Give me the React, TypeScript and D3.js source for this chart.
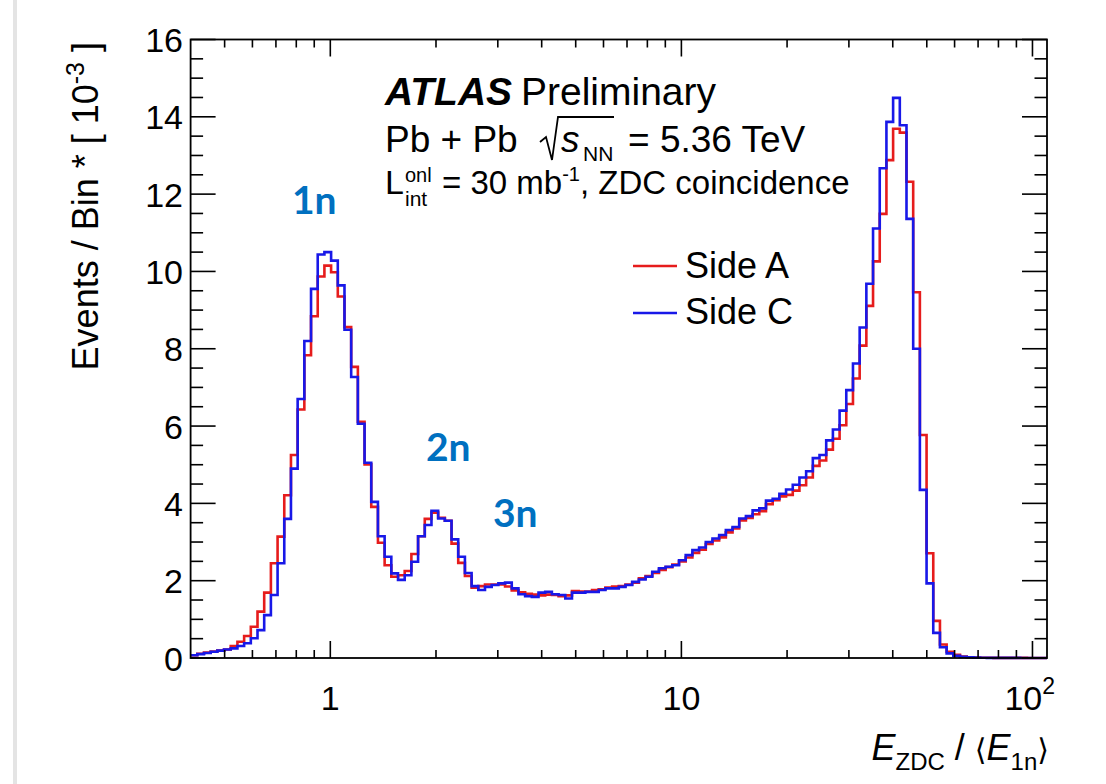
import React from "react";
import * as d3 from "d3";

// ---- data (events / bin, in units of 10^3) ----
const X_MIN = 0.4;
const X_MAX = 110;
const N_BINS = 128;

const sideA = [
  0.07, 0.11, 0.14, 0.17, 0.19, 0.22, 0.31, 0.42, 0.57, 0.81,
  1.2, 1.69, 2.45, 3.14, 4.21, 5.25, 6.43, 7.83, 8.84, 9.87,
  10.15, 9.98, 9.35, 8.56, 7.53, 6.11, 5.01, 3.91, 2.98, 2.4,
  2.1, 2.14, 2.25, 2.69, 3.15, 3.6, 3.76, 3.63, 3.55, 2.96,
  2.46, 2.12, 1.82, 1.86, 1.9, 1.9, 1.9, 1.85, 1.75, 1.7,
  1.66, 1.64, 1.62, 1.64, 1.63, 1.6, 1.62, 1.73, 1.72, 1.72,
  1.76, 1.78, 1.82, 1.85, 1.86, 1.9, 1.95, 2.06, 2.12, 2.2,
  2.28, 2.35, 2.42, 2.5, 2.6, 2.72, 2.8, 2.95, 3.04, 3.12,
  3.25, 3.35, 3.56, 3.62, 3.72, 3.8, 3.98, 4.08, 4.18, 4.22,
  4.33, 4.47, 4.67, 4.97, 5.11, 5.39, 5.67, 6.02, 6.57, 7.23,
  8.08, 9.11, 10.26, 11.49, 12.88, 13.69, 13.59, 12.32, 9.46, 5.77,
  2.71, 0.96, 0.35, 0.16, 0.08, 0.04, 0.02, 0.01, 0.006, 0.005,
  0.004, 0.003, 0.003, 0.002, 0.002, 0.001, 0.001, 0.001,
];

const sideC = [
  0.07, 0.1, 0.13, 0.16, 0.19, 0.22, 0.25, 0.31, 0.38, 0.51,
  0.72, 1.11, 1.63, 2.45, 3.6, 4.9, 6.7, 8.2, 9.55, 10.44,
  10.5, 10.28, 9.64, 8.49, 7.27, 6.06, 5.05, 4.04, 3.15, 2.62,
  2.19, 2.02, 2.14, 2.49, 3.15, 3.44, 3.81, 3.61, 3.55, 3.07,
  2.62, 2.2, 1.86, 1.76, 1.84, 1.89, 1.93, 1.95, 1.8, 1.65,
  1.6, 1.58, 1.69, 1.71, 1.65, 1.63, 1.54, 1.69, 1.69, 1.71,
  1.71, 1.76, 1.8, 1.8, 1.84, 1.89, 1.97, 2.03, 2.1, 2.23,
  2.32, 2.36, 2.4, 2.53, 2.66, 2.79, 2.86, 3.0, 3.09, 3.18,
  3.31, 3.39, 3.61, 3.67, 3.82, 3.87, 4.07, 4.12, 4.25, 4.36,
  4.48, 4.67, 4.83, 5.17, 5.25, 5.63, 5.91, 6.4, 6.93, 7.62,
  8.55, 9.68, 11.11, 12.67, 13.87, 14.49, 13.78, 11.36, 8.0, 4.35,
  1.93, 0.65, 0.28, 0.12, 0.06, 0.03, 0.02, 0.01, 0.005, 0.004,
  0.003, 0.003, 0.002, 0.002, 0.001, 0.001, 0.001, 0.001,
];

const yTickValues = [0, 2, 4, 6, 8, 10, 12, 14, 16];
const xMajorTicks = [1, 10, 100];
const seriesNames = ["Side A", "Side C"];
const peakLabels = ["1n", "2n", "3n"];

const COLORS = { A: "#e61c1c", C: "#1818e8" };
const FONT = "'Liberation Sans', Arimo, Helvetica, Arial, sans-serif";

const W = 1106;
const H = 784;
const M = { left: 190.6, right: 1047, top: 39.5, bottom: 658 };

export default function App() {
  const x = d3.scaleLog().domain([X_MIN, X_MAX]).range([M.left, M.right]);
  const y = d3.scaleLinear().domain([0, 16]).range([M.bottom, M.top]);

  const lgMin = Math.log10(X_MIN);
  const lgMax = Math.log10(X_MAX);
  const edges = d3.range(N_BINS + 1).map((i) => Math.pow(10, lgMin + ((lgMax - lgMin) * i) / N_BINS));

  const stepLine = d3
    .line<[number, number]>()
    .x((d) => x(d[0]))
    .y((d) => y(d[1]))
    .curve(d3.curveStepAfter);

  const pts = (vals: number[]): [number, number][] => {
    const p: [number, number][] = vals.map((v, i) => [edges[i], v]);
    p.push([edges[N_BINS], vals[vals.length - 1]]);
    return p;
  };

  const xMinor = x.ticks().filter((t) => t > X_MIN * 1.001 && !xMajorTicks.includes(t) && t < X_MAX);
  const yMinor = d3.range(0, 16.001, 0.5).filter((v) => !yTickValues.includes(v));

  const tickStroke = { stroke: "#000", strokeWidth: 1.6 };
  const peakPos = [
    [292, 214],
    [426, 461],
    [493, 527],
  ];

  return (
    <svg
      width={W}
      height={H}
      style={{ position: "absolute", left: 0, top: 0, background: "#fff" }}
      fontFamily={FONT}
    >
      <rect x={0} y={0} width={W} height={H} fill="#fff" />
      <rect x={13} y={0} width={4} height={H} fill="#e4e4e4" />

      {/* histograms */}
      <path d={stepLine(pts(sideA)) || ""} fill="none" stroke={COLORS.A} strokeWidth={2.6} />
      <path d={stepLine(pts(sideC)) || ""} fill="none" stroke={COLORS.C} strokeWidth={2.6} />

      {/* frame */}
      <rect
        x={M.left}
        y={M.top}
        width={M.right - M.left}
        height={M.bottom - M.top}
        fill="none"
        stroke="#000"
        strokeWidth={1.8}
      />

      {/* y ticks */}
      {yTickValues.map((v) => (
        <g key={"yt" + v}>
          <line x1={M.left} x2={M.left + 25} y1={y(v)} y2={y(v)} {...tickStroke} />
          <line x1={M.right} x2={M.right - 25} y1={y(v)} y2={y(v)} {...tickStroke} />
          <text x={183} y={y(v) + 12.5} fontSize={34} textAnchor="end">
            {v}
          </text>
        </g>
      ))}
      {yMinor.map((v) => (
        <g key={"ym" + v}>
          <line x1={M.left} x2={M.left + 12.5} y1={y(v)} y2={y(v)} {...tickStroke} />
          <line x1={M.right} x2={M.right - 12.5} y1={y(v)} y2={y(v)} {...tickStroke} />
        </g>
      ))}

      {/* x ticks */}
      {xMajorTicks.map((t) => (
        <g key={"xt" + t}>
          <line x1={x(t)} x2={x(t)} y1={M.bottom} y2={M.bottom - 17} {...tickStroke} />
          <line x1={x(t)} x2={x(t)} y1={M.top} y2={M.top + 17} {...tickStroke} />
        </g>
      ))}
      {xMinor.map((t) => (
        <g key={"xm" + t}>
          <line x1={x(t)} x2={x(t)} y1={M.bottom} y2={M.bottom - 8} {...tickStroke} />
          <line x1={x(t)} x2={x(t)} y1={M.top} y2={M.top + 8} {...tickStroke} />
        </g>
      ))}
      <text x={x(1)} y={710} fontSize={34} textAnchor="middle">1</text>
      <text x={x(10)} y={710} fontSize={34} textAnchor="middle">10</text>
      <text x={x(100) - 28} y={710} fontSize={34}>
        10
        <tspan fontSize={23} dy={-16}>2</tspan>
      </text>

      {/* x title */}
      <text x={1049} y={760} fontSize={36} textAnchor="end">
        <tspan fontStyle="italic">E</tspan>
        <tspan fontSize={24} dy={10}>ZDC</tspan>
        <tspan dy={-10}> / </tspan>
        <tspan fontFamily="'DejaVu Sans', sans-serif" fontSize={30}>⟨</tspan>
        <tspan fontStyle="italic">E</tspan>
        <tspan fontSize={24} dy={10}>1n</tspan>
        <tspan dy={-10} fontFamily="'DejaVu Sans', sans-serif" fontSize={30}>⟩</tspan>
      </text>

      {/* y title */}
      <text transform="translate(98,42) rotate(-90)" fontSize={36} textAnchor="end">
        Events / Bin * [ 10
        <tspan fontSize={25} dy={-14}>-3</tspan>
        <tspan dy={14}> ]</tspan>
      </text>

      {/* ATLAS text */}
      <text x={385} y={105} fontSize={39} fontWeight="bold" fontStyle="italic">ATLAS</text>
      <text x={521} y={105} fontSize={39}>Preliminary</text>

      <text x={385} y={152} fontSize={37}>Pb + Pb</text>
      <path
        d="M540,142 L546,137 L552,160 L558,117 L614,117"
        fill="none"
        stroke="#000"
        strokeWidth={1.8}
      />
      <text x={561} y={152} fontSize={37} fontStyle="italic">s</text>
      <text x={583} y={161} fontSize={21}>NN</text>
      <text x={628} y={152} fontSize={37}>= 5.36 TeV</text>

      <text x={385} y={194} fontSize={34}>L</text>
      <text x={405} y={182} fontSize={20}>onl</text>
      <text x={405} y={206} fontSize={21}>int</text>
      <text x={442} y={194} fontSize={33}>
        = 30 mb
        <tspan fontSize={20} dy={-13}>-1</tspan>
        <tspan dy={13}>, ZDC coincidence</tspan>
      </text>

      {/* legend */}
      {seriesNames.map((name, i) => (
        <g key={name}>
          <line
            x1={633}
            x2={677}
            y1={266 + i * 47}
            y2={266 + i * 47}
            stroke={i === 0 ? COLORS.A : COLORS.C}
            strokeWidth={2.6}
          />
          <text x={685} y={278 + i * 46} fontSize={36}>
            {name}
          </text>
        </g>
      ))}

      {/* peak annotations */}
      {peakLabels.map((label, i) => (
        <text
          key={label}
          x={peakPos[i][0]}
          y={peakPos[i][1]}
          fontFamily="Lato, 'Open Sans', sans-serif"
          fontWeight="bold"
          fontSize={39}
          fill="#0070c0"
        >
          {label}
        </text>
      ))}
    </svg>
  );
}
